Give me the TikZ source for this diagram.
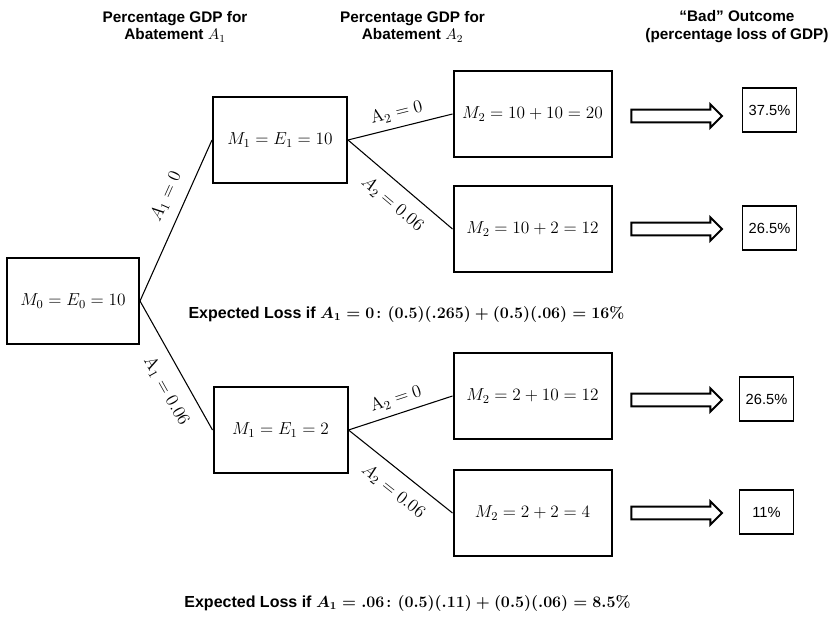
\RequirePackage{fix-cm}
\documentclass[tikz,border=0pt]{standalone}
\usepackage[no-math]{fontspec}
\setmainfont{Liberation Sans}
\usepackage{amsmath}
\usepackage{tikz}
\usetikzlibrary{shapes.arrows}

\begin{document}
\begin{tikzpicture}
    [
    x=0.75pt, y=-0.75pt,
    state/.style={draw, line width=1.5pt, minimum height=64pt, inner sep=0pt,
      font=\fontsize{13}{15}\selectfont},
    outcome/.style={draw, line width=0.9pt, minimum width=41pt, minimum height=33pt,
      inner sep=0pt, font=\fontsize{11}{13}\selectfont},
    fatarrow/.style={single arrow, draw, line width=1.5pt, minimum height=68pt,
      inner xsep=0pt, inner ysep=4pt, single arrow head extend=4pt},
    branch/.style={line width=0.8pt},
    choice/.style={sloped, inner sep=1pt, font=\fontsize{13.5}{15}\selectfont},
    head/.style={align=center, font=\bfseries\fontsize{11.5}{13.3}\selectfont},
    loss/.style={anchor=base, font=\bfseries\fontsize{12}{14}\selectfont},
    ]
    \useasboundingbox (0,0) rectangle (833,617);

    % column headers
    \node (h1) at (175,26.5) [head] {Percentage GDP for\\Abatement $A_1$};
    \node (h2) at (412.5,26.5) [head] {Percentage GDP for\\Abatement $A_2$};
    \node (h3) at (737,26.5) [head] {``Bad'' Outcome\\(percentage loss of GDP)};

    % tree
    \node (m0) at (73,301) [state, minimum width=99pt] {$M_0 = E_0 = 10$};
    \node (m1a) at (280,140) [state, minimum width=100.5pt] {$M_1 = E_1 = 10$};
    \node (m1b) at (280.5,430) [state, minimum width=100.5pt] {$M_1 = E_1 = 2$};
    \node (m2a) at (532.5,114) [state, minimum width=118.5pt] {$M_2 = 10 + 10 = 20$};
    \node (m2b) at (532.5,229) [state, minimum width=118.5pt] {$M_2 = 10 + 2 = 12$};
    \node (m2c) at (532.5,396) [state, minimum width=118.5pt] {$M_2 = 2 + 10 = 12$};
    \node (m2d) at (532.5,513) [state, minimum width=118.5pt] {$M_2 = 2 + 2 = 4$};

    \draw [branch] (m0.east) to node [choice, above=7pt, pos=0.6] {$A_1 = 0$} (m1a.west);
    \draw [branch] (m0.east) to node [choice, below=9pt, pos=0.62] {$\mathrm{A}_1 = 0.06$} (m1b.west);
    \draw [branch] (m1a.east) to node [choice, above=4pt] {$\mathrm{A}_2 = 0$} (m2a.west);
    \draw [branch] (m1a.east) to node [choice, below=8pt, pos=0.55] {$A_2 = 0.06$} (m2b.west);
    \draw [branch] (m1b.east) to node [choice, above=4pt] {$\mathrm{A}_2 = 0$} (m2c.west);
    \draw [branch] (m1b.east) to node [choice, below=8pt, pos=0.55] {$A_2 = 0.06$} (m2d.west);

    % outcomes
    \node (ar1) at (673.5,116) [fatarrow] {};
    \node (ar2) at (673.5,229) [fatarrow] {};
    \node (ar3) at (673.5,400) [fatarrow] {};
    \node (ar4) at (673.5,513) [fatarrow] {};
    \node (o1) at (769.5,110) [outcome] {37.5\%};
    \node (o2) at (769.5,228) [outcome] {26.5\%};
    \node (o3) at (766.5,399) [outcome] {26.5\%};
    \node (o4) at (766.5,512) [outcome] {11\%};

    % expected losses
    \node (el0) at (406.5,318) [loss] {Expected Loss if {\boldmath$A_1 = 0\colon (0.5)(.265) + (0.5)(.06) = 16\%$}};
    \node (el1) at (407.5,607) [loss] {Expected Loss if {\boldmath$A_1 = .06\colon (0.5)(.11) + (0.5)(.06) = 8.5\%$}};
\end{tikzpicture}
\end{document}
